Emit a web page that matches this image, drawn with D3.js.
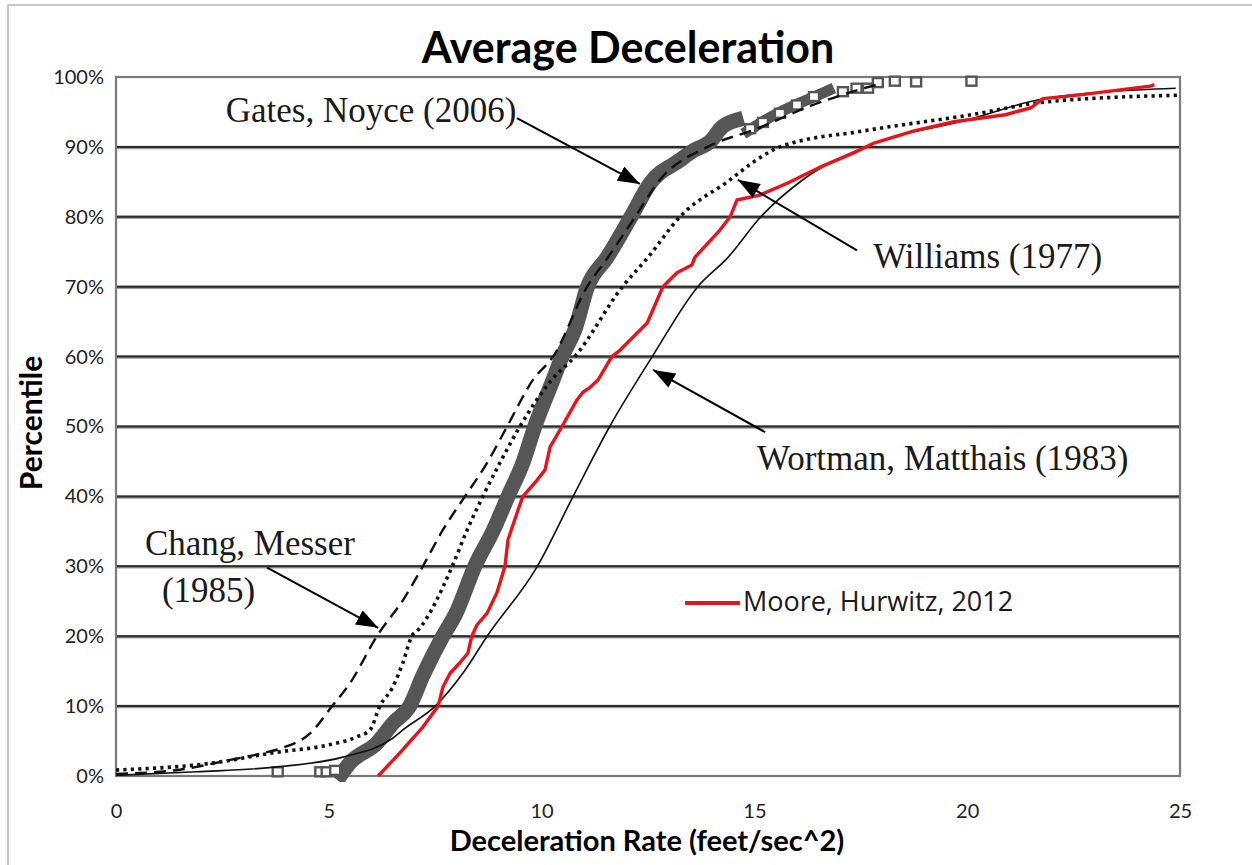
<!DOCTYPE html>
<html>
<head>
<meta charset="utf-8">
<script src="https://cdn.jsdelivr.net/npm/d3@7"></script>
<style>
  html, body { margin: 0; padding: 0; background: #fff; }
  svg { display: block; }
</style>
</head>
<body>
<svg id="chart" width="1252" height="865"></svg>
<script>
// ---------- data ----------
const xTicks = [0, 5, 10, 15, 20, 25];
const yTicks = [0, 10, 20, 30, 40, 50, 60, 70, 80, 90, 100];

// Wortman, Matthais (1983) – thin solid black
const wortmanX = [0, 1.9, 3.78, 5.33, 6.5, 6.74, 7.5, 8.15, 8.72, 9.9, 10.74, 11.6, 12.6, 13.67, 14.38, 15.15, 16.14, 17.6, 20.09, 21.8, 24.9];
const wortmanP = [0.1, 0.6, 1.3, 2.7, 5.4, 6.6, 10, 14.7, 20, 30, 40, 50, 60, 70, 74.2, 80, 85.3, 90, 94, 96.9, 98.4];

// Williams (1977) – dotted
const williamsX = [0, 2.2, 3.78, 4.96, 5.66, 5.97, 6.2, 6.5, 6.74, 6.95, 7.1, 7.9, 8.25, 8.62, 9.02, 9.49, 10.24, 10.78, 11.9, 12.5, 13.25, 14.43, 14.97, 15.6, 17.58, 20.09, 21.8, 25];
const williamsP = [0.86, 1.8, 3.4, 4.4, 5.6, 6.6, 10, 12.7, 16.2, 20, 20.9, 30, 35.2, 40, 44.8, 50, 56.7, 60, 70, 74.2, 80, 85.3, 87.8, 90, 92.3, 94.6, 96.4, 97.4];

// Chang, Messer (1985) – dashed
const changX = [0, 1.5, 2.6, 3.4, 3.9, 4.56, 5.08, 5.5, 6.13, 6.79, 7.21, 7.68, 8.2, 8.72, 9.19, 9.8, 10.27, 11.07, 11.56, 12.2, 12.78, 13.9, 15.06, 16.33, 17.58, 18.0];
const changP = [0.3, 0.9, 2.2, 3.2, 4.0, 6.1, 10, 13.3, 20, 25.6, 30, 35.2, 40, 44.8, 50, 56.7, 60, 70, 74.2, 80, 85.3, 90, 92.6, 95.9, 98.4, 99.1];

// Gates, Noyce (2006) – dense square markers (band) and sparse squares
const gatesX = [5.3, 5.5, 6.13, 6.5, 6.9, 7.2, 7.68, 7.99, 8.43, 8.87, 9.21, 9.56, 9.84, 10.27, 10.48, 10.78, 11.08, 11.54, 12.1, 12.55, 13.25, 13.55, 14.0, 14.2, 14.57];
const gatesP = [0.3, 1.9, 4.7, 7.5, 10, 14.2, 20, 23.3, 30, 35.2, 40, 44.8, 50, 56.7, 60, 63.8, 70, 74.2, 80, 84.8, 88.1, 89.4, 91, 92.6, 93.8];
const gatesUpperX = [14.85, 15.48, 16.07, 16.57, 16.75];
const gatesUpperP = [92.3, 94.6, 96.3, 97.6, 98.1];
const gatesSparseX = [3.8, 4.8, 4.95, 5.15, 14.9, 15.2, 15.6, 16.0, 16.4, 17.08, 17.4, 17.67, 17.9, 18.3, 18.8, 20.1];
const gatesSparseP = [0.6, 0.6, 0.6, 0.8, 92.6, 93.5, 94.8, 96.0, 97.2, 97.9, 98.4, 98.4, 99.2, 99.4, 99.3, 99.4];

// Moore, Hurwitz, 2012 – red
const mooreX = [6.16, 6.67, 7.21, 7.57, 7.68, 7.85, 8.08, 8.27, 8.36, 8.48, 8.72, 8.95, 9.14, 9.21, 9.42, 9.56, 9.89, 10.08, 10.2, 10.48, 10.83, 10.97, 11.14, 11.33, 11.65, 11.84, 12.48, 12.85, 13.18, 13.53, 13.6, 14.19, 14.43, 14.59, 15.13, 15.77, 16.54, 17.32, 17.79, 18.75, 19.69, 20.9, 21.5, 21.78, 22.6, 24.3, 24.4];
const mooreP = [0, 3.3, 7.0, 10, 12.7, 14.7, 16.2, 17.6, 20, 21.6, 23.3, 26.2, 30, 33.8, 37.6, 40, 42.3, 43.8, 47.1, 50, 53.8, 54.9, 55.6, 56.7, 60, 60.9, 64.8, 70, 72.0, 73.1, 74.2, 78.1, 80, 82.4, 83.1, 84.8, 87.1, 89.1, 90.5, 92.3, 93.6, 94.6, 95.6, 96.9, 97.4, 98.7, 98.9];

// annotation labels (data coordinates) and arrows [fromX, fromP, toX, toP]
const labelTexts = ["Gates, Noyce (2006)", "Williams (1977)", "Wortman, Matthais (1983)", "Chang, Messer", "(1985)"];
const labelX = [2.58, 17.79, 15.06, 0.68, 1.08];
const labelP = [93.6, 72.7, 43.8, 31.6, 24.9];
const arrows = [
  [9.42, 94.1, 12.31, 84.7],
  [17.41, 75.2, 14.61, 85.3],
  [15.25, 49.2, 12.62, 58.1],
  [3.55, 29.8, 6.16, 21.2]
];
const legendLabel = "Moore, Hurwitz, 2012";

// ---------- drawing ----------
const svg = d3.select("#chart");
const x = d3.scaleLinear().domain([0, 25]).range([116, 1180]);
const y = d3.scaleLinear().domain([0, 100]).range([776, 77]);

svg.append("rect").attr("width", 1252).attr("height", 865).attr("fill", "#fff");
svg.append("rect").attr("x", 8).attr("y", 5).attr("width", 1270).attr("height", 880)
  .attr("fill", "none").attr("stroke", "#b5b5b5").attr("stroke-width", 1.5);

// gridlines
const grid = svg.append("g");
yTicks.filter(t => t > 0 && t < 100).forEach(t => {
  grid.append("line").attr("x1", x(0)).attr("x2", x(25)).attr("y1", y(t) + 0.5).attr("y2", y(t) + 0.5)
    .attr("stroke", "#9c9c9c").attr("stroke-width", 3.5);
  grid.append("line").attr("x1", x(0)).attr("x2", x(25)).attr("y1", y(t)).attr("y2", y(t))
    .attr("stroke", "#2a2a2a").attr("stroke-width", 2);
});
// plot border
svg.append("rect").attr("x", x(0)).attr("y", y(100)).attr("width", x(25) - x(0)).attr("height", y(0) - y(100))
  .attr("fill", "none").attr("stroke", "#7a7a7a").attr("stroke-width", 2.2);

// axes
const xAxis = svg.append("g").attr("transform", `translate(0,${y(0)})`)
  .call(d3.axisBottom(x).tickValues(xTicks).tickSize(0).tickPadding(28).tickFormat(d3.format("d")));
const yAxis = svg.append("g").attr("transform", `translate(${x(0)},0)`)
  .call(d3.axisLeft(y).tickValues(yTicks).tickSize(0).tickPadding(12).tickFormat(d => d + "%"));
[xAxis, yAxis].forEach(a => {
  a.select(".domain").remove();
  a.selectAll("text").attr("font-family", "Lato, 'Open Sans', sans-serif").attr("font-size", 20).attr("fill", "#222");
});

// series
const pts = (xs, ps) => xs.map((v, i) => [v, ps[i]]);
const line = d3.line().x(d => x(d[0])).y(d => y(d[1])).curve(d3.curveMonotoneX);
const lineLin = d3.line().x(d => x(d[0])).y(d => y(d[1]));
svg.append("clipPath").attr("id", "plotclip").append("rect")
  .attr("x", x(0)).attr("y", y(100) - 6).attr("width", x(25) - x(0)).attr("height", y(0) - y(100) + 12);
const plot = svg.append("g").attr("clip-path", "url(#plotclip)");

// Gates band
plot.append("path").datum(pts(gatesX, gatesP)).attr("d", line)
  .attr("fill", "none").attr("stroke", "#565656").attr("stroke-width", 15).attr("stroke-linejoin", "round").attr("stroke-linecap", "square");
plot.append("path").datum(pts(gatesUpperX, gatesUpperP)).attr("d", line)
  .attr("fill", "none").attr("stroke", "#565656").attr("stroke-width", 11).attr("stroke-linejoin", "round").attr("stroke-linecap", "square");
plot.selectAll("rect.gsq").data(pts(gatesSparseX, gatesSparseP)).join("rect").attr("class", "gsq")
  .attr("x", d => x(d[0]) - 5).attr("y", d => y(d[1]) - 4.5).attr("width", 10).attr("height", 9)
  .attr("fill", "#fff").attr("stroke", "#555").attr("stroke-width", 2.4);

// Wortman solid
plot.append("path").datum(pts(wortmanX, wortmanP)).attr("d", line)
  .attr("fill", "none").attr("stroke", "#111").attr("stroke-width", 1.6);
// Williams dotted
plot.append("path").datum(pts(williamsX, williamsP)).attr("d", line)
  .attr("fill", "none").attr("stroke", "#111").attr("stroke-width", 3.6).attr("stroke-dasharray", "3.2,4.2");
// Chang dashed
plot.append("path").datum(pts(changX, changP)).attr("d", line)
  .attr("fill", "none").attr("stroke", "#111").attr("stroke-width", 2.4).attr("stroke-dasharray", "12,7");
// Moore red
plot.append("path").datum(pts(mooreX, mooreP)).attr("d", lineLin)
  .attr("fill", "none").attr("stroke", "#e8141b").attr("stroke-width", 3.4).attr("stroke-linejoin", "round");

// arrows
const defs = svg.append("defs");
defs.append("marker").attr("id", "ah").attr("markerUnits", "userSpaceOnUse")
  .attr("markerWidth", 24).attr("markerHeight", 18).attr("refX", 22).attr("refY", 8).attr("orient", "auto")
  .append("path").attr("d", "M0,0 L22,8 L0,16 Z").attr("fill", "#000");
svg.selectAll("line.arrow").data(arrows).join("line").attr("class", "arrow")
  .attr("x1", d => x(d[0])).attr("y1", d => y(d[1])).attr("x2", d => x(d[2])).attr("y2", d => y(d[3]))
  .attr("stroke", "#000").attr("stroke-width", 2).attr("marker-end", "url(#ah)");

// annotation labels
svg.selectAll("text.ann").data(labelTexts).join("text").attr("class", "ann")
  .attr("x", (d, i) => x(labelX[i])).attr("y", (d, i) => y(labelP[i]))
  .attr("font-family", "'Liberation Serif', 'Times New Roman', serif").attr("font-size", 35).attr("fill", "#1a1a1a")
  .text(d => d);

// legend
svg.append("line").attr("x1", x(13.37)).attr("x2", x(14.66)).attr("y1", y(24.75)).attr("y2", y(24.75))
  .attr("stroke", "#e8141b").attr("stroke-width", 4);
svg.append("text").attr("x", x(14.73)).attr("y", y(23.6))
  .attr("font-family", "'Open Sans', sans-serif").attr("font-size", 27).attr("fill", "#1a1a1a").text(legendLabel);

// titles
svg.append("text").attr("x", 628).attr("y", 63).attr("text-anchor", "middle")
  .attr("font-family", "Lato, sans-serif").attr("font-weight", "bold").attr("font-size", 43).attr("fill", "#000")
  .text("Average Deceleration");
svg.append("text").attr("x", 647).attr("y", 851).attr("text-anchor", "middle")
  .attr("font-family", "Lato, sans-serif").attr("font-weight", "bold").attr("font-size", 29).attr("fill", "#000")
  .text("Deceleration Rate (feet/sec^2)");
svg.append("text").attr("transform", "translate(42,423) rotate(-90)").attr("text-anchor", "middle")
  .attr("font-family", "Lato, sans-serif").attr("font-weight", "bold").attr("font-size", 30).attr("fill", "#000")
  .text("Percentile");
</script>
</body>
</html>
